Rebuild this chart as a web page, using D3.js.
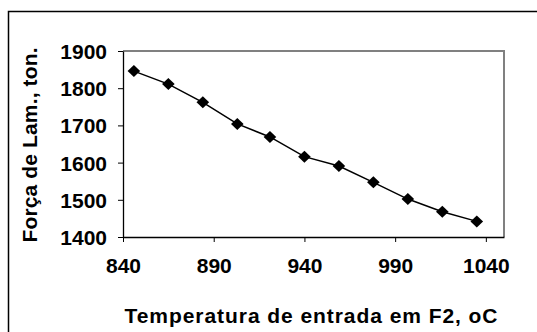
<!DOCTYPE html>
<html><head><meta charset="utf-8">
<script src="https://cdn.jsdelivr.net/npm/d3@7"></script>
<style>html,body{margin:0;padding:0;background:#fff;}svg{display:block;}</style>
</head><body>
<svg id="c" width="537" height="332"></svg>
<script>
const temps = [846, 865, 884, 903, 921, 940, 959, 978, 997, 1016, 1035];
const forces = [1846, 1811, 1762, 1704, 1669, 1616, 1591, 1547, 1502, 1468, 1442];
const xTicks = [840, 890, 940, 990, 1040];
const yTicks = [1400, 1500, 1600, 1700, 1800, 1900];
const xTitle = "Temperatura de entrada em F2, oC";
const yTitle = "Força de Lam., ton.";

const svg = d3.select("#c");
const font = "'Liberation Sans', Arial, sans-serif";
const L = 123, R = 504, T = 51, B = 237;
const x = d3.scaleLinear().domain([840, 1050]).range([L, R]);
const y = d3.scaleLinear().domain([1400, 1900]).range([B, T]);

// outer frame (left & top visible)
svg.append("rect").attr("x", 8.5).attr("y", 11.5).attr("width", 600).attr("height", 400)
  .attr("fill", "none").attr("stroke", "#000").attr("stroke-width", 1.5);

// plot border (gray)
svg.append("path").attr("d", `M${L},${T}H${R}V${B}`).attr("fill", "none")
  .attr("stroke", "#808080").attr("stroke-width", 2);

const fmt = d3.format("d");
const xa = svg.append("g").attr("transform", `translate(0,${B})`)
  .call(d3.axisBottom(x).tickValues(xTicks).tickFormat(fmt).tickSize(5).tickPadding(16).tickSizeOuter(0));
const ya = svg.append("g").attr("transform", `translate(${L},0)`)
  .call(d3.axisLeft(y).tickValues(yTicks).tickFormat(fmt).tickSize(5).tickPadding(11).tickSizeOuter(0));
[xa, ya].forEach(g => {
  g.select(".domain").attr("stroke", "#000").attr("stroke-width", 1.3);
  g.selectAll(".tick line").attr("stroke", "#000").attr("stroke-width", 1);
  g.selectAll("text").attr("font-family", font).attr("font-size", 21)
    .attr("font-weight", "bold").attr("fill", "#000");
});
ya.selectAll("text").attr("dy", "0.36em");

const line = d3.line().x((d, i) => x(temps[i])).y(d => y(d));
svg.append("path").datum(forces).attr("d", line).attr("fill", "none")
  .attr("stroke", "#000").attr("stroke-width", 1.5);

svg.selectAll(".pt").data(forces).enter().append("path")
  .attr("transform", (d, i) => `translate(${x(temps[i])},${y(d)})`)
  .attr("d", "M0,-6L6.3,0L0,6L-6.3,0Z").attr("fill", "#000");

svg.append("text").attr("x", 311).attr("y", 323).attr("text-anchor", "middle")
  .attr("font-family", font).attr("font-size", 21).attr("font-weight", "bold")
  .attr("textLength", 373).attr("lengthAdjust", "spacing").text(xTitle);

svg.append("text").attr("transform", "translate(37,145) rotate(-90)").attr("text-anchor", "middle")
  .attr("font-family", font).attr("font-size", 21).attr("font-weight", "bold")
  .attr("textLength", 195).attr("lengthAdjust", "spacing").text(yTitle);
</script>
</body></html>
